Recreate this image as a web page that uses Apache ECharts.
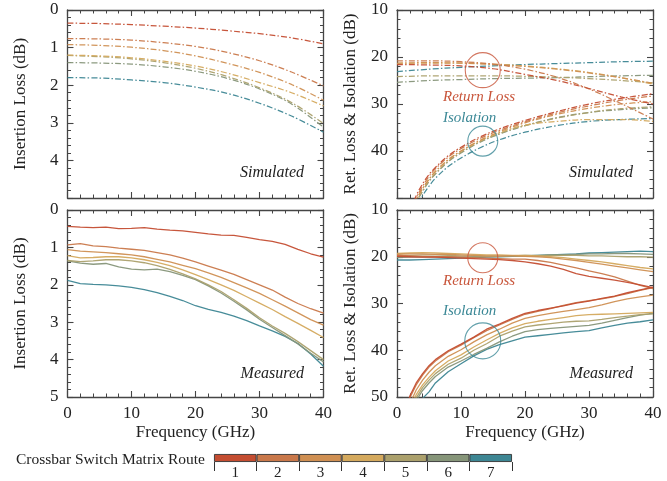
<!DOCTYPE html>
<html><head><meta charset="utf-8">
<script src="https://cdn.jsdelivr.net/npm/echarts@6/dist/echarts.min.js"></script>
<style>html,body{margin:0;padding:0;background:#fff}#c{width:667px;height:481px}</style>
</head><body><div id="c"></div>
<script>
// ---------- data ----------
const routes = ['1','2','3','4','5','6','7'];
const routeColors = ['#c44d31','#c9784a','#cf8f52','#d4a95d','#aba06c','#869579','#3d8693'];

const freqSim = [0,5,10,15,20,25,30,35,40];
const ilSim = [
  [0.35,0.36,0.39,0.43,0.48,0.55,0.63,0.74,0.90],
  [0.76,0.77,0.80,0.87,0.97,1.13,1.35,1.65,2.02],
  [0.92,0.94,0.99,1.08,1.22,1.42,1.66,1.98,2.40],
  [1.20,1.22,1.27,1.36,1.49,1.68,1.93,2.20,2.55],
  [1.21,1.24,1.30,1.40,1.55,1.77,2.07,2.46,3.02],
  [1.40,1.41,1.44,1.51,1.63,1.82,2.10,2.50,3.12],
  [1.80,1.81,1.86,1.93,2.05,2.22,2.48,2.82,3.25]
];
const rlSim = [
  [21.6,21.7,21.9,22.5,23.7,25.0,26.7,28.5,30.0],
  [20.8,20.8,21.0,21.5,22.6,24.3,26.8,29.9,33.2],
  [21.3,21.2,21.3,21.6,22.0,22.6,23.4,24.4,25.6],
  [21.4,21.3,21.3,21.5,21.9,22.5,23.3,24.4,25.8],
  [24.2,24.0,24.0,24.0,24.1,24.3,24.6,25.0,25.5],
  [25.4,25.0,24.8,24.6,24.5,24.4,24.2,24.0,23.9],
  [23.1,22.6,22.2,21.9,21.6,21.4,21.2,21.0,20.9]
];
const freqIsoSim = [2,3,4,5,6,8,10,13,16,20,25,30,35,40];
const isoSim = [
  [53.0,49.5,47.0,45.0,43.5,41.0,39.2,37.0,35.3,33.5,31.6,30.0,28.8,27.8],
  [53.5,50.0,47.5,45.4,43.8,41.3,39.5,37.3,35.6,33.8,31.9,30.4,29.2,28.3],
  [54.0,50.5,48.0,46.0,44.4,41.9,40.0,37.7,35.9,34.0,32.2,30.9,30.0,29.5],
  [54.0,50.5,48.0,46.0,44.3,41.8,40.0,37.8,36.1,34.5,33.7,33.3,33.3,33.7],
  [54.5,51.0,48.5,46.4,44.8,42.2,40.3,38.0,36.3,34.6,33.0,31.8,31.0,30.6],
  [54.5,51.0,48.6,46.5,44.9,42.3,40.4,38.1,36.4,34.6,32.9,31.8,31.2,30.8],
  [56.0,52.0,49.5,47.5,45.8,43.3,41.5,39.3,37.6,36.0,34.6,33.7,33.3,33.1]
];

const freqMeas = [0,2,4,6,8,10,12,14,16,18,20,22,24,26,28,30,32,34,36,38,40];
const ilMeas = [
  [0.44,0.46,0.47,0.46,0.50,0.49,0.47,0.51,0.54,0.56,0.60,0.64,0.67,0.68,0.73,0.79,0.84,0.92,1.05,1.17,1.26],
  [0.93,0.90,0.96,0.98,1.02,1.05,1.08,1.14,1.20,1.29,1.39,1.50,1.61,1.72,1.86,2.00,2.14,2.33,2.50,2.64,2.76],
  [1.06,1.10,1.12,1.14,1.17,1.20,1.25,1.32,1.39,1.48,1.57,1.68,1.80,1.94,2.08,2.23,2.40,2.57,2.75,2.93,3.08],
  [1.22,1.28,1.27,1.25,1.25,1.28,1.33,1.40,1.49,1.60,1.73,1.86,2.00,2.15,2.32,2.49,2.66,2.85,3.03,3.22,3.41],
  [1.35,1.38,1.36,1.33,1.33,1.36,1.41,1.49,1.59,1.71,1.84,2.00,2.18,2.40,2.63,2.88,3.10,3.30,3.52,3.76,4.00],
  [1.36,1.42,1.45,1.43,1.52,1.58,1.60,1.58,1.65,1.75,1.86,2.03,2.22,2.44,2.67,2.92,3.14,3.36,3.58,3.83,4.06],
  [1.88,1.97,1.99,2.00,2.03,2.07,2.13,2.21,2.31,2.42,2.56,2.66,2.74,2.84,2.96,3.10,3.23,3.38,3.57,3.85,4.18]
];
const rlMeas = [
  [19.9,20.0,20.1,20.1,20.2,20.3,20.4,20.5,20.6,20.8,21.1,21.5,22.0,22.7,23.6,24.2,24.6,25.0,25.5,26.0,26.6],
  [19.7,19.8,19.9,20.0,20.0,20.1,20.2,20.3,20.4,20.5,20.5,20.8,21.2,21.8,22.4,23.0,23.6,24.3,25.2,26.1,26.8],
  [19.5,19.4,19.4,19.5,19.5,19.6,19.7,19.8,19.8,19.8,19.9,20.0,20.2,20.5,20.8,21.2,21.6,22.0,22.4,22.8,23.2],
  [19.3,19.2,19.1,19.2,19.3,19.4,19.5,19.6,19.6,19.7,19.7,19.8,20.0,20.2,20.5,20.8,21.1,21.5,21.9,22.3,22.6],
  [19.8,19.7,19.6,19.6,19.7,19.8,19.8,19.9,19.9,19.8,19.8,19.8,19.7,19.7,19.7,19.8,19.8,19.9,20.0,20.0,20.1],
  [20.2,20.1,20.1,20.0,20.0,20.1,20.0,19.9,19.9,19.8,19.7,19.7,19.6,19.6,19.5,19.4,19.4,19.3,19.3,19.4,19.5],
  [20.7,20.7,20.6,20.5,20.4,20.3,20.2,20.1,20.0,19.9,19.8,19.7,19.6,19.5,19.4,19.2,19.1,19.0,18.9,18.8,18.9]
];
const freqIsoMeas = [1,2,3,4,5,6,8,10,12,14,16,18,20,22,24,26,28,30,32,34,36,38,40];
const isoMeas = [
  [54.5,49.8,47.0,45.0,43.3,42.0,40.1,38.7,37.2,35.5,34.4,33.2,32.1,31.5,31.0,30.5,29.9,29.5,28.9,28.4,27.7,27.1,26.5],
  [55.0,50.2,47.4,45.3,43.6,42.3,40.3,38.9,37.3,35.8,34.6,33.4,32.3,31.7,31.1,30.4,29.8,29.4,29.0,28.5,27.9,27.2,26.6],
  [56.0,51.5,48.5,46.4,44.7,43.3,41.3,39.9,38.2,36.7,35.5,34.2,33.2,32.6,32.1,31.7,31.3,30.9,30.3,29.6,29.0,28.6,28.2],
  [57.0,52.5,49.5,47.4,45.8,44.4,42.3,41.0,39.3,37.8,36.4,35.2,34.3,33.8,33.4,33.0,32.6,32.4,32.3,32.2,32.1,32.0,31.9],
  [57.5,53.0,50.2,48.0,46.4,45.0,43.0,41.7,40.0,38.6,37.0,35.9,35.0,34.6,34.3,34.0,33.8,33.7,33.4,33.0,32.7,32.4,32.2],
  [58.0,53.5,50.8,48.6,47.0,45.6,43.6,42.3,40.9,39.6,38.2,37.0,36.0,35.6,35.3,35.1,34.9,34.7,34.2,33.6,33.0,32.5,32.1],
  [60.0,56.0,52.5,50.3,48.9,47.0,44.6,42.9,41.2,39.8,38.8,38.0,37.2,36.9,36.6,36.3,36.0,35.8,35.2,34.7,34.2,33.9,33.5]
];
// annotation circles: [GHz, dB, diameter]
const circlesTop = [[13.4,22.8,35,'#c8553a'],[13.4,37.9,30,'#3b8896']];
const circlesBot = [[13.4,20.2,30,'#c8553a'],[13.4,38.0,36,'#3b8896']];

// ---------- chart ----------
const FONT = 'Liberation Serif';
const AX = '#454545';
const chart = echarts.init(document.getElementById('c'), null, {renderer:'canvas'});
const grids = [
  {left:67.5, top:10, width:256, height:188},
  {left:397, top:10, width:256, height:188},
  {left:67.5, top:210, width:256, height:187},
  {left:397, top:210, width:256, height:187},
  {left:214, top:454, width:298, height:11}
];
const lineSt = {color:AX, width:1.3};
function xAx(g, pos, labels){
  return {gridIndex:g, type:'value', position:pos, min:0, max:40, interval:10,
    axisLine:{show:true, onZero:false, lineStyle:lineSt},
    axisTick:{show:true, inside:true, length:6, lineStyle:{color:AX, width:1.1}},
    minorTick:{show:true, splitNumber:5, length:3.5, lineStyle:{color:AX, width:1}},
    splitLine:{show:false},
    axisLabel:{show:labels, margin:8, fontFamily:FONT, fontSize:17, color:'#222'},
    name: labels ? 'Frequency (GHz)' : '', nameLocation:'middle', nameGap:27,
    nameTextStyle:{fontFamily:FONT, fontSize:17, color:'#222'}};
}
function yAx(g, pos, min, max, step, labels, hideVal, name){
  return {gridIndex:g, type:'value', position:pos, inverse:true, min:min, max:max, interval:step,
    axisLine:{show:true, onZero:false, lineStyle:lineSt},
    axisTick:{show:true, inside:true, length:6, lineStyle:{color:AX, width:1.1}},
    minorTick:{show:true, splitNumber:5, length:3.5, lineStyle:{color:AX, width:1}},
    splitLine:{show:false},
    axisLabel:{show:labels, margin:9, fontFamily:FONT, fontSize:17, color:'#222',
      formatter: v => (v===hideVal ? '' : String(v))},
    name: name||'', nameLocation:'middle', nameGap:38,
    nameTextStyle:{fontFamily:FONT, fontSize:17, color:'#222'}};
}
const xAxis = [
  xAx(0,'bottom',false), xAx(1,'bottom',false), xAx(2,'bottom',true), xAx(3,'bottom',true),
  xAx(0,'top',false), xAx(1,'top',false), xAx(2,'top',false), xAx(3,'top',false),
  {gridIndex:4, type:'category', data:routes, position:'bottom',
    axisLine:{show:false}, axisTick:{show:true, length:9, lineStyle:{color:'#333', width:1}},
    axisLabel:{fontFamily:FONT, fontSize:15, color:'#222', margin:4}, splitLine:{show:false}}
];
const yAxis = [
  yAx(0,'left',0,5,1,true,5,'Insertion Loss (dB)'),
  yAx(1,'left',10,50,10,true,50,'Ret. Loss & Isolation (dB)'),
  yAx(2,'left',0,5,1,true,null,'Insertion Loss (dB)'),
  yAx(3,'left',10,50,10,true,null,'Ret. Loss & Isolation (dB)'),
  yAx(0,'right',0,5,1,false,null), yAx(1,'right',10,50,10,false,null),
  yAx(2,'right',0,5,1,false,null), yAx(3,'right',10,50,10,false,null),
  {gridIndex:4, type:'value', min:0, max:1, show:false}
];
const pair = (xs, ys) => xs.map((x,i)=>[x, ys[i]]);
const series = [];
const DASH = [6,2.2,1.5,2.2];
function addLines(g, xs, arr, dashed){
  arr.forEach((ys,i)=>{
    series.push({type:'line', xAxisIndex:g, yAxisIndex:g, data:pair(xs,ys),
      showSymbol:false, symbol:'none', smooth: dashed ? 0.35 : false, clip:true,
      lineStyle:{color:routeColors[i], width: dashed?1.25:1.3, type: dashed?DASH:'solid', opacity: dashed?0.95:0.95},
      silent:true, z: 2 + (6-i)*0.01});
  });
}
addLines(0, freqSim, ilSim, true);
addLines(1, freqSim, rlSim, true);
addLines(1, freqIsoSim, isoSim, true);
addLines(2, freqMeas, ilMeas, false);
addLines(3, freqMeas, rlMeas, false);
addLines(3, freqIsoMeas, isoMeas, false);
function addCircles(g, list){
  list.forEach(c=>{
    series.push({type:'scatter', xAxisIndex:g, yAxisIndex:g, data:[[c[0],c[1]]],
      symbol:'circle', symbolSize:c[2], silent:true, z:5,
      itemStyle:{color:'rgba(0,0,0,0)', borderColor:c[3], borderWidth:1.1}});
  });
}
addCircles(1, circlesTop);
addCircles(3, circlesBot);
series.push({type:'bar', xAxisIndex:8, yAxisIndex:8, barWidth:'100%', silent:true,
  data: routes.map((r,i)=>({value:1, itemStyle:{color:routeColors[i]}})),
  itemStyle:{borderColor:'#333', borderWidth:0.9}});

const txt = (x,y,t,opt) => ({type:'text', x:x, y:y, silent:true, z:10,
  style:Object.assign({text:t, fontFamily:FONT, fontSize:16, fill:'#222', textVerticalAlign:'middle'}, opt)});
const graphic = [
  txt(304,173,'Simulated',{textAlign:'right', fontStyle:'italic'}),
  txt(633,173,'Simulated',{textAlign:'right', fontStyle:'italic'}),
  txt(304,374,'Measured',{textAlign:'right', fontStyle:'italic'}),
  txt(633,374,'Measured',{textAlign:'right', fontStyle:'italic'}),
  txt(443,97,'Return Loss',{textAlign:'left', fontStyle:'italic', fontSize:15, fill:'#c8553a'}),
  txt(443,118,'Isolation',{textAlign:'left', fontStyle:'italic', fontSize:15, fill:'#3b8896'}),
  txt(443,281,'Return Loss',{textAlign:'left', fontStyle:'italic', fontSize:15, fill:'#c8553a'}),
  txt(443,311,'Isolation',{textAlign:'left', fontStyle:'italic', fontSize:15, fill:'#3b8896'}),
  txt(205,460,'Crossbar Switch Matrix Route',{textAlign:'right', fontSize:15.5})
];
chart.setOption({animation:false, backgroundColor:'#fff', grid:grids, xAxis:xAxis, yAxis:yAxis, series:series, graphic:graphic});
</script></body></html>
